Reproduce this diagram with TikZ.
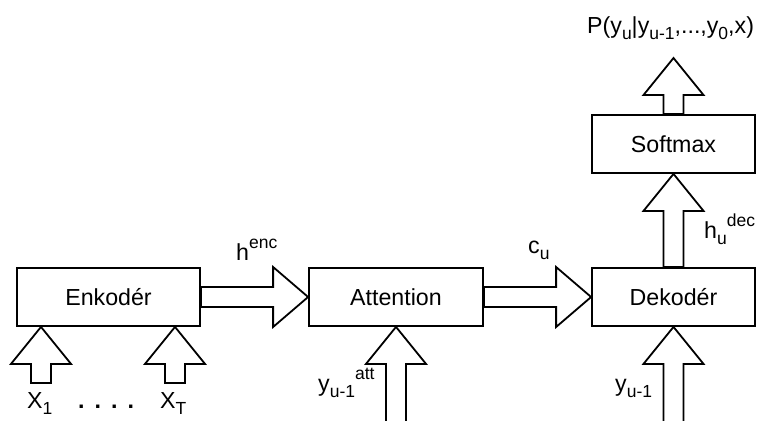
\documentclass[tikz,border=0pt]{standalone}
\usepackage{fontspec}
\setmainfont{Liberation Sans}
\usetikzlibrary{calc}
\newcommand\dsub[1]{\raisebox{-0.3em}{\fontsize{17.5bp}{17.5bp}\selectfont #1}}
\newcommand\dsup[1]{\raisebox{0.48em}{\fontsize{17.5bp}{17.5bp}\selectfont #1}}
\tikzset{
  box/.style={draw, line width=1.8bp, minimum height=58bp, inner sep=0pt},
  blk/.style={draw, line width=1.8bp, line join=miter, fill=white},
  lbl/.style={inner sep=0pt, anchor=base west},
  every node/.style={font=\fontsize{23.2bp}{27bp}\selectfont}
}
% horizontal block arrow from point #1 (tail) to point #2 (tip)
\newcommand\harrow[2]{%
  \path[blk] let \p1=(#1), \p2=(#2) in
    (\x1,{\y2+10bp}) -- ({\x2-35bp},{\y2+10bp}) -- ({\x2-35bp},{\y2+30bp}) --
    (\x2,\y2) -- ({\x2-35bp},{\y2-30bp}) -- ({\x2-35bp},{\y2-10bp}) --
    (\x1,{\y2-10bp}) -- cycle;}
% vertical block arrow from point #1 (tail, below) to point #2 (tip, above)
\newcommand\varrow[2]{%
  \path[blk] let \p1=(#1), \p2=(#2) in
    ({\x2-10bp},\y1) -- ({\x2-10bp},{\y2-37bp}) -- ({\x2-30bp},{\y2-37bp}) --
    (\x2,\y2) -- ({\x2+30bp},{\y2-37bp}) -- ({\x2+10bp},{\y2-37bp}) --
    ({\x2+10bp},\y1) -- cycle;}
\begin{document}
\begin{tikzpicture}[x=1bp,y=-1bp]
\useasboundingbox (0,0) rectangle (759,420);
% boxes
\node[box, minimum width=183bp] (enc) at (108.5,297) {Enkodér};
\node[box, minimum width=174bp] (att) at (396,297) {Attention};
\node[box, minimum width=163bp] (dec) at (673.5,297) {Dekodér};
\node[box, minimum width=163bp] (soft) at (673.5,144) {Softmax};
% free ends
\coordinate (x1in) at (41,383);
\coordinate (xTin) at (175,383);
\coordinate (attin) at (396,430);
\coordinate (decin) at (673.5,430);
\coordinate (pout) at (673.5,58);
% connectors
\harrow{enc.east}{att.west}
\harrow{att.east}{dec.west}
\varrow{dec.north}{soft.south}
\varrow{soft.north}{pout}
\varrow{attin}{att.south}
\varrow{decin}{dec.south}
\varrow{x1in}{enc.south west -| x1in}
\varrow{xTin}{enc.south west -| xTin}
% labels
\node[lbl] (henc) at (236,260) {h\dsup{enc}};
\node[lbl] (cu) at (528,253) {c\dsub{u}};
\node[lbl] (hdec) at (704,238) {h\dsub{u}\dsup{dec}};
\node[lbl] (yatt) at (318,391) {y\dsub{u-1}\dsup{att}};
\node[lbl] (yin) at (615,391) {y\dsub{u-1}};
\node[lbl] (p) at (587,33) {P(y\dsub{u}|y\dsub{u-1},...,y\dsub{0},x)};
\node[lbl] (x1) at (27,408) {X\dsub{1}};
\node[lbl] (dots) at (78,408) {\textbf{.}\hspace{10bp}\textbf{.}\hspace{10bp}\textbf{.}\hspace{10bp}\textbf{.}};
\node[lbl] (xT) at (160,408) {X\dsub{T}};
\end{tikzpicture}
\end{document}
